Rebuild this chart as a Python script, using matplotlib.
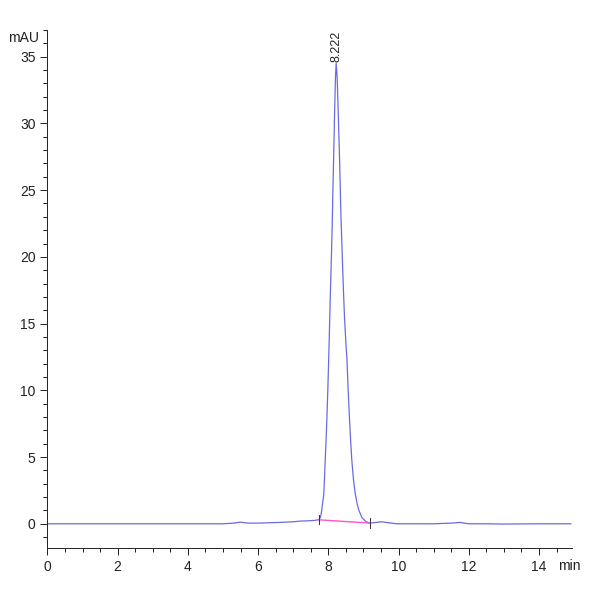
import matplotlib
matplotlib.use('Agg')
import matplotlib.pyplot as plt
from matplotlib.ticker import MultipleLocator

plt.rcParams['font.family'] = ['Liberation Sans Narrow', 'Liberation Sans', 'DejaVu Sans']

# chromatogram trace (min, mAU)
time_min = [0.0, 1.0, 2.0, 3.0, 4.0, 5.0, 5.3, 5.5, 5.7, 6.0, 6.6, 7.0, 7.2,
            7.4, 7.6, 7.72, 7.77, 7.80, 7.82, 7.84, 7.87, 7.89, 7.91, 7.935,
            7.96, 7.985, 8.01, 8.03, 8.05, 8.085, 8.11, 8.13, 8.15, 8.18, 8.20,
            8.222, 8.25, 8.28, 8.32, 8.36, 8.40, 8.43, 8.46, 8.495, 8.53, 8.565,
            8.60, 8.635, 8.67, 8.72, 8.77, 8.82, 8.87, 8.92, 8.96, 9.02, 9.08,
            9.19, 9.35, 9.52, 9.7, 9.95, 10.5, 11.0, 11.5, 11.75, 12.0, 12.5,
            13.0, 14.0, 14.9]
signal_mau = [0.0, 0.0, 0.0, 0.0, 0.0, 0.0, 0.05, 0.12, 0.05, 0.05, 0.1, 0.15, 0.2,
              0.22, 0.25, 0.3, 0.45, 0.8, 1.2, 1.6, 2.2, 3.3, 4.7, 6.2,
              8.0, 10.0, 12.3, 14.3, 16.5, 19.8, 22.3, 25.0, 27.3, 31.0, 33.2,
              34.5, 33.5, 31.0, 27.3, 23.0, 19.8, 17.5, 15.5, 13.8, 12.3, 10.0,
              8.0, 6.2, 4.7, 3.2, 2.2, 1.5, 1.0, 0.7, 0.45, 0.3, 0.15,
              0.05, 0.1, 0.15, 0.08, 0.0, 0.0, 0.0, 0.05, 0.1, 0.0, 0.0,
              -0.02, 0.0, 0.0]

# integration baseline of the main peak
peak_rt = 8.222
peak_top = 34.5
base_t = [7.72, 9.19]
base_y = [0.3, 0.05]

fig = plt.figure(figsize=(6, 6), dpi=100)
ax = fig.add_axes([0.079, 0.087, 0.875, 0.863])

ax.plot(time_min, signal_mau, color='#6a6ae0', lw=0.9)
ax.plot(base_t, base_y, color='#ff55cc', lw=1.0)
for t, y in zip(base_t, base_y):
    ax.plot([t, t], [y - 0.35, y + 0.35], color='#333333', lw=0.7)

ax.text(peak_rt, peak_top + 0.1, '%.3f' % peak_rt, rotation=90, ha='center',
        va='bottom', fontsize=9, color='#222222')

ax.set_xlim(0, 14.95)
ax.set_ylim(-1.8, 37.0)
ax.xaxis.set_major_locator(MultipleLocator(2))
ax.xaxis.set_minor_locator(MultipleLocator(0.5))
ax.yaxis.set_major_locator(MultipleLocator(5))
ax.yaxis.set_minor_locator(MultipleLocator(1))
ax.tick_params(which='major', direction='out', length=5, width=0.7,
               labelsize=10, colors='#222222')
ax.tick_params(which='minor', direction='out', length=3, width=0.7, colors='#222222')
for s in ['top', 'right']:
    ax.spines[s].set_visible(False)
for s in ['left', 'bottom']:
    ax.spines[s].set_linewidth(0.7)
    ax.spines[s].set_color('#222222')

ax.text(-0.25, 36.4, 'mAU', ha='right', va='center', fontsize=10, color='#222222')
ax.text(14.55, -3.15, 'min', ha='left', va='center', fontsize=10, color='#222222')

fig.savefig('out.png', dpi=100)
